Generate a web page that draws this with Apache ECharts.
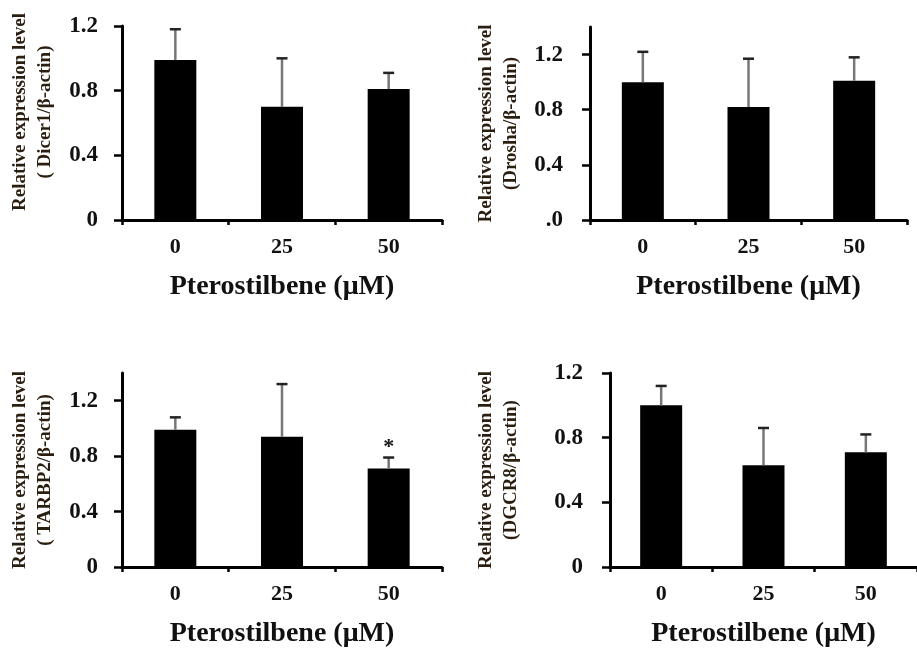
<!DOCTYPE html>
<html><head><meta charset="utf-8">
<script src="https://cdn.jsdelivr.net/npm/echarts@6/dist/echarts.min.js"></script>
<style>html,body{margin:0;padding:0;background:#fff}#c{width:917px;height:651px}</style>
</head><body><div id="c"></div>
<script>
// ---- data ----
const categories = ['0', '25', '50'];
const dicer1 = [0.99, 0.70, 0.81];
const dicer1Err = [0.19, 0.30, 0.10];
const drosha = [1.00, 0.82, 1.01];
const droshaErr = [0.22, 0.35, 0.17];
const tarbp2 = [0.99, 0.94, 0.71];
const tarbp2Err = [0.09, 0.38, 0.08];
const dgcr8 = [1.00, 0.63, 0.71];
const dgcr8Err = [0.12, 0.23, 0.11];
const tarbp2Sig = ['', '', '*'];
const yTicks = [0, 0.4, 0.8, 1.2];
const yTickLabels = ['0', '0.4', '0.8', '1.2'];
const droshaTickLabels = ['.0', '0.4', '0.8', '1.2'];
const xName = 'Pterostilbene (\u03bcM)';
const yNames = [
  'Relative expression level\n( Dicer1/\u03b2-actin)',
  'Relative expression level\n(Drosha/\u03b2-actin)',
  'Relative expression level\n( TARBP2/\u03b2-actin)',
  'Relative expression level\n(DGCR8/\u03b2-actin)'
];
const yMax = [1.2, 1.4, 1.4, 1.2];

// ---- layout ----
const FONT = '"Liberation Serif", "Times New Roman", serif';
const grids = [
  {left: 122, top: 26, width: 320, height: 194},
  {left: 590, top: 27, width: 317, height: 193},
  {left: 122, top: 373, width: 320, height: 194},
  {left: 610, top: 373, width: 315, height: 194}
];
const nameGaps = [64, 66, 64, 86];
const namePads = [[0, 0, 0, 22], [0, 0, 0, 0], [0, 0, 0, 0], [0, 0, 0, 0]];
const labelMargins = [24, 27, 24, 27];
const panels = [
  {v: dicer1, e: dicer1Err, sig: null, labels: yTickLabels},
  {v: drosha, e: droshaErr, sig: null, labels: droshaTickLabels},
  {v: tarbp2, e: tarbp2Err, sig: tarbp2Sig, labels: yTickLabels},
  {v: dgcr8, e: dgcr8Err, sig: null, labels: yTickLabels}
];

function errRender(sig) {
  return function (params, api) {
    const i = params.dataIndex;
    const x = api.value(0), v = api.value(1), e = api.value(2);
    const p0 = api.coord([x, v]);
    const p1 = api.coord([x, v + e]);
    const children = [
      {type: 'line', shape: {x1: p0[0], y1: p0[1], x2: p1[0], y2: p1[1]}, style: {stroke: '#777', lineWidth: 2.5}},
      {type: 'line', shape: {x1: p1[0] - 5.5, y1: p1[1], x2: p1[0] + 5.5, y2: p1[1]}, style: {stroke: '#222', lineWidth: 2.5}}
    ];
    if (sig && sig[i]) {
      children.push({type: 'text', x: p1[0], y: p1[1] - 10,
        style: {text: sig[i], font: 'bold 22px ' + FONT, fill: '#111', align: 'center', verticalAlign: 'middle'}});
    }
    return {type: 'group', children: children};
  };
}

const option = {
  animation: false,
  backgroundColor: '#fff',
  grid: grids.map(g => Object.assign({containLabel: false}, g)),
  xAxis: grids.map((g, k) => ({
    type: 'category', gridIndex: k, data: categories,
    name: xName, nameLocation: 'middle', nameGap: 53,
    nameTextStyle: {fontFamily: FONT, fontWeight: 'bold', fontSize: 28, color: '#111'},
    axisLine: {lineStyle: {color: '#000', width: 3}},
    axisTick: {show: true, length: 5, lineStyle: {color: '#000', width: 2.5}},
    axisLabel: {fontFamily: FONT, fontWeight: 'bold', fontSize: 22, color: '#111', margin: 16}
  })),
  yAxis: grids.map((g, k) => ({
    type: 'value', gridIndex: k, min: 0, max: yMax[k], interval: 0.4,
    name: yNames[k], nameLocation: 'middle', nameRotate: 90, nameGap: nameGaps[k],
    nameTextStyle: {fontFamily: FONT, fontWeight: 'bold', fontSize: 19, lineHeight: 25, color: '#2a1e10', padding: namePads[k]},
    splitLine: {show: false},
    axisLine: {show: true, lineStyle: {color: '#000', width: 3}},
    axisTick: {show: true, length: 8, customValues: yTicks, lineStyle: {color: '#000', width: 2.5}},
    axisLabel: {
      customValues: yTicks, margin: labelMargins[k],
      fontFamily: FONT, fontWeight: 'bold', fontSize: 23, color: '#111',
      formatter: (val) => {
        const idx = yTicks.findIndex(t => Math.abs(t - val) < 1e-6);
        return idx >= 0 ? panels[k].labels[idx] : '';
      }
    }
  })),
  series: []
};

panels.forEach((p, k) => {
  option.series.push({
    type: 'bar', xAxisIndex: k, yAxisIndex: k, data: p.v,
    barWidth: 42, itemStyle: {color: '#000'}, z: 2
  });
  option.series.push({
    type: 'custom', xAxisIndex: k, yAxisIndex: k,
    data: p.v.map((v, i) => [i, v, p.e[i]]),
    encode: {x: 0, y: 1},
    renderItem: errRender(p.sig), z: 3
  });
});

const chart = echarts.init(document.getElementById('c'), null, {renderer: 'canvas'});
chart.setOption(option);
</script>
</body></html>
